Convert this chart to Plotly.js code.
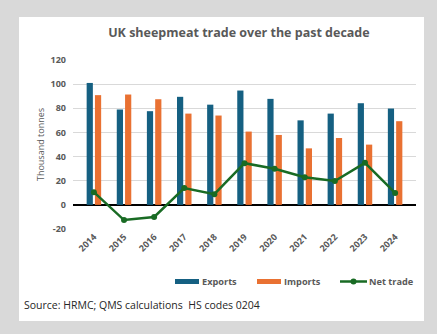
<!DOCTYPE html>
<html><head><meta charset="utf-8">
<script src="https://cdn.plot.ly/plotly-3.0.1.min.js"></script>
<style>
html,body{margin:0;padding:0;background:#d9d9d9;width:437px;height:334px;overflow:hidden;}
#panel{position:absolute;left:19px;top:17px;width:405px;height:304px;background:#fff;}
#chart{width:405px;height:304px;}
</style></head>
<body><div id="panel"><div id="chart"></div></div>
<script>
const years = ['2014','2015','2016','2017','2018','2019','2020','2021','2022','2023','2024'];
const exportsVals = [101, 79, 77.6, 89.5, 83, 94.7, 87.8, 70, 75.6, 84.2, 79.8];
const importsVals = [90.9, 91.4, 87.5, 75.6, 74, 60.7, 57.9, 46.8, 55.4, 49.9, 69.3];
const netTrade = [10.5, -12.6, -10, 13.9, 8.8, 34.5, 29.9, 22.9, 19.8, 34.8, 9.9];
const yTicks = [-20, 0, 20, 40, 60, 80, 100, 120];
const seriesNames = ['Exports', 'Imports', 'Net trade'];
const colors = ['#156082', '#E97132', '#196B24'];

const font = 'Open Sans, sans-serif';
const W = 405, H = 304, ML = 54, MR = 8, MT = 43, MB = 92;
const PW = W - ML - MR, PH = H - MT - MB;
// page px -> paper coords (panel offset 19,17)
const px = x => (x - 19 - ML) / PW;
const py = y => (H - MB - (y - 17)) / PH;

const data = [
  {type:'bar', name:seriesNames[0], x:years, y:exportsVals, marker:{color:colors[0]}},
  {type:'bar', name:seriesNames[1], x:years, y:importsVals, marker:{color:colors[1]}},
  {type:'scatter', mode:'lines+markers', name:seriesNames[2], x:years, y:netTrade,
   line:{color:colors[2], width:2.5}, marker:{color:colors[2], size:6}}
];

const legY = 281.5;
const legFont = {family:font, size:9.2, color:'#595959', weight:'bold'};
const shapes = [
  {type:'rect', xref:'paper', yref:'paper', x0:px(175), x1:px(199), y0:py(legY-2.5), y1:py(legY+2.5), fillcolor:colors[0], line:{width:0}},
  {type:'rect', xref:'paper', yref:'paper', x0:px(257), x1:px(281), y0:py(legY-2.5), y1:py(legY+2.5), fillcolor:colors[1], line:{width:0}},
  {type:'line', xref:'paper', yref:'paper', x0:px(340), x1:px(367), y0:py(legY), y1:py(legY), line:{color:colors[2], width:2.5}},
  {type:'circle', xref:'paper', yref:'paper', x0:px(350.5), x1:px(356.5), y0:py(legY-3), y1:py(legY+3), fillcolor:colors[2], line:{width:0}}
];
const ann = (t, x) => ({text:t, xref:'paper', yref:'paper', x:px(x), y:py(legY), xanchor:'left', yanchor:'middle', showarrow:false, font:legFont});

const layout = {
  width:W, height:H,
  margin:{l:ML, r:MR, t:MT, b:MB},
  paper_bgcolor:'#fff', plot_bgcolor:'#fff',
  barmode:'group', bargap:0.45, bargroupgap:0.25,
  showlegend:false,
  title:{text:'<b>UK sheepmeat trade over the past decade</b>', x:0.543, xref:'container', xanchor:'center', y:1-16/304, yref:'container', yanchor:'middle',
    font:{family:font, size:12.5, color:'#595959'}},
  font:{family:font, color:'#595959'},
  xaxis:{tickmode:'array', tickvals:years, ticktext:years, tickangle:-45,
    tickfont:{family:font, size:9, color:'#595959', weight:'bold'}, showgrid:false, zeroline:false, showline:false, ticks:''},
  yaxis:{range:[-20,120], tickmode:'array', tickvals:yTicks, ticktext:yTicks.map(String), gridcolor:'#d9d9d9', gridwidth:1,
    zeroline:true, zerolinecolor:'#000', zerolinewidth:2, ticklabelstandoff:6,
    tickfont:{family:font, size:9, color:'#595959', weight:'bold'},
    title:{text:'Thousand tonnes', font:{family:font, size:9, color:'#595959'}, standoff:4}},
  shapes:shapes,
  annotations:[
    ann(seriesNames[0], 200), ann(seriesNames[1], 282), ann(seriesNames[2], 367),
    {text:'Source: HRMC; QMS calculations  HS codes 0204', xref:'paper', yref:'paper',
    x:px(22), y:py(305), xanchor:'left', yanchor:'middle', showarrow:false,
    font:{family:font, size:10.5, color:'#262626'}}]
};
Plotly.newPlot('chart', data, layout, {displayModeBar:false, staticPlot:true});
</script></body></html>
